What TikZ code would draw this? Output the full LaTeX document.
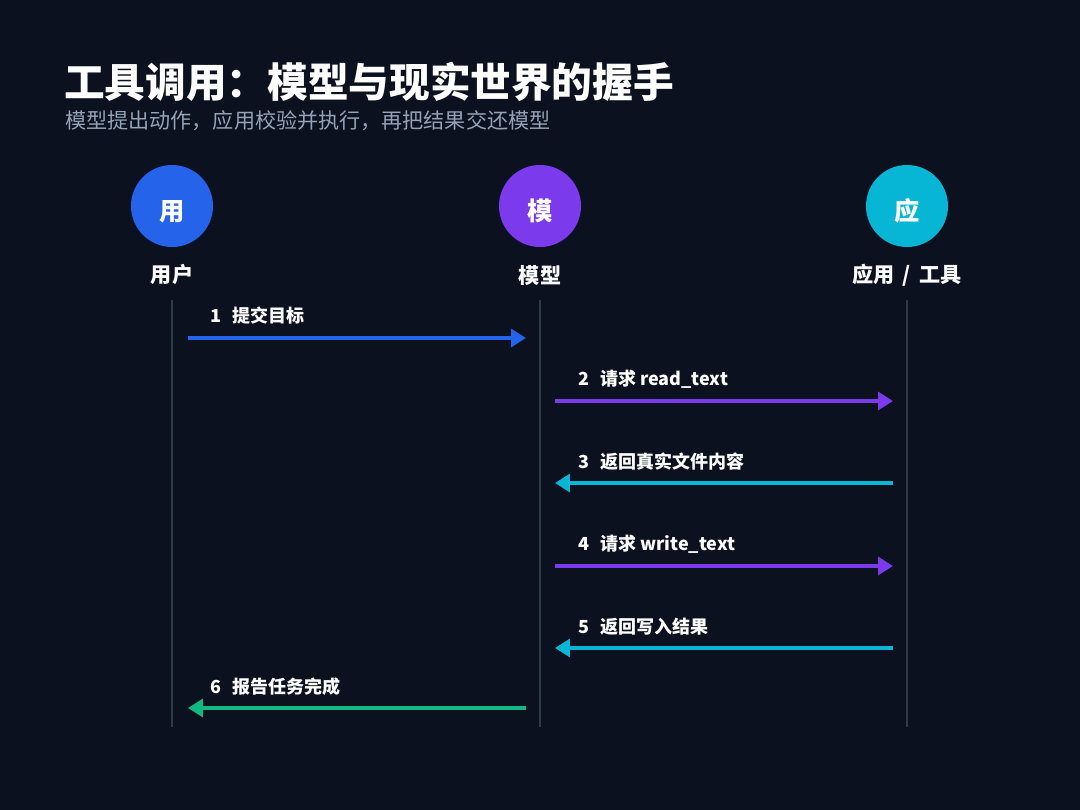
\documentclass[tikz,border=0pt]{standalone}
\usepackage{fontspec}
\setmainfont{Noto Sans CJK SC}
\usetikzlibrary{arrows.meta, positioning, calc}
\definecolor{bgcolor}{HTML}{0B111E}
\definecolor{usercolor}{HTML}{2563EB}
\definecolor{modelcolor}{HTML}{7C3AED}
\definecolor{appcolor}{HTML}{06B6D4}
\definecolor{donecolor}{HTML}{10B981}
\definecolor{lifecolor}{HTML}{2F3B4D}
\definecolor{subcolor}{HTML}{94A3B8}

\begin{document}
\begin{tikzpicture}[
    x=0.025cm, y=-0.025cm,
    actor/.style={
        circle,
        minimum size=2.05cm,
        inner sep=0pt,
        text height=21pt,
        text depth=0pt,
        text=white,
        font=\fontsize{18}{21}\selectfont\bfseries
    },
    actorlabel/.style={
        text=white,
        font=\fontsize{15}{18}\selectfont\bfseries
    },
    lifeline/.style={
        draw=lifecolor,
        line width=1.1pt
    },
    msg/.style={
        line width=2.8pt,
        -{Triangle[length=10.5pt, width=12.5pt]}
    },
    msglabel/.style={
        anchor=west,
        text=white,
        inner sep=0pt,
        font=\fontsize{12.8}{15}\selectfont\bfseries
    }
]

% Background and page size
\fill[bgcolor] (0,0) rectangle (1080,810);
\useasboundingbox (0,0) rectangle (1080,810);

% Title
\node[anchor=west, inner sep=0pt, text=white, font=\fontsize{28.9}{33}\selectfont\bfseries] (title) at (64,82) {工具调用：模型与现实世界的握手};
\node[anchor=west, inner sep=0pt, text=subcolor, font=\fontsize{15}{18}\selectfont] (subtitle) at (65,121) {模型提出动作，应用校验并执行，再把结果交还模型};

% Actors
\node[actor, fill=usercolor] (user) at (172,206) {用};
\node[actor, fill=modelcolor] (model) at (540,206) {模};
\node[actor, fill=appcolor] (app) at (907,206) {应};

\node[actorlabel] (userlbl) at (172,275) {用户};
\node[actorlabel] (modellbl) at (540,275) {模型};
\node[actorlabel] (applbl) at (907,275) {应用\hspace{0.4em}/\hspace{0.4em}工具};

% Lifelines
\coordinate (usertop) at (172,300);
\coordinate (userbot) at (172,727);
\coordinate (modeltop) at (540,300);
\coordinate (modelbot) at (540,727);
\coordinate (apptop) at (907,300);
\coordinate (appbot) at (907,727);
\draw[lifeline] (usertop) -- (userbot);
\draw[lifeline] (modeltop) -- (modelbot);
\draw[lifeline] (apptop) -- (appbot);

% Message end points
\coordinate (m1a) at (188,338);  \coordinate (m1b) at (526,338);
\coordinate (m2a) at (555,401);  \coordinate (m2b) at (893,401);
\coordinate (m3a) at (893,483);  \coordinate (m3b) at (555,483);
\coordinate (m4a) at (555,566);  \coordinate (m4b) at (893,566);
\coordinate (m5a) at (893,648);  \coordinate (m5b) at (555,648);
\coordinate (m6a) at (526,708);  \coordinate (m6b) at (188,708);

% Messages
\draw[msg, usercolor] (m1a) -- (m1b);
\draw[msg, modelcolor] (m2a) -- (m2b);
\draw[msg, appcolor] (m3a) -- (m3b);
\draw[msg, modelcolor] (m4a) -- (m4b);
\draw[msg, appcolor] (m5a) -- (m5b);
\draw[msg, donecolor] (m6a) -- (m6b);

% Message labels
\node[msglabel] (l1) at (210,316) {1\hspace{0.6em}提交目标};
\node[msglabel] (l2) at (578,379) {2\hspace{0.6em}请求 read\_text};
\node[msglabel] (l3) at (578,462) {3\hspace{0.6em}返回真实文件内容};
\node[msglabel] (l4) at (578,544) {4\hspace{0.6em}请求 write\_text};
\node[msglabel] (l5) at (578,627) {5\hspace{0.6em}返回写入结果};
\node[msglabel] (l6) at (210,687) {6\hspace{0.6em}报告任务完成};

\end{tikzpicture}
\end{document}
